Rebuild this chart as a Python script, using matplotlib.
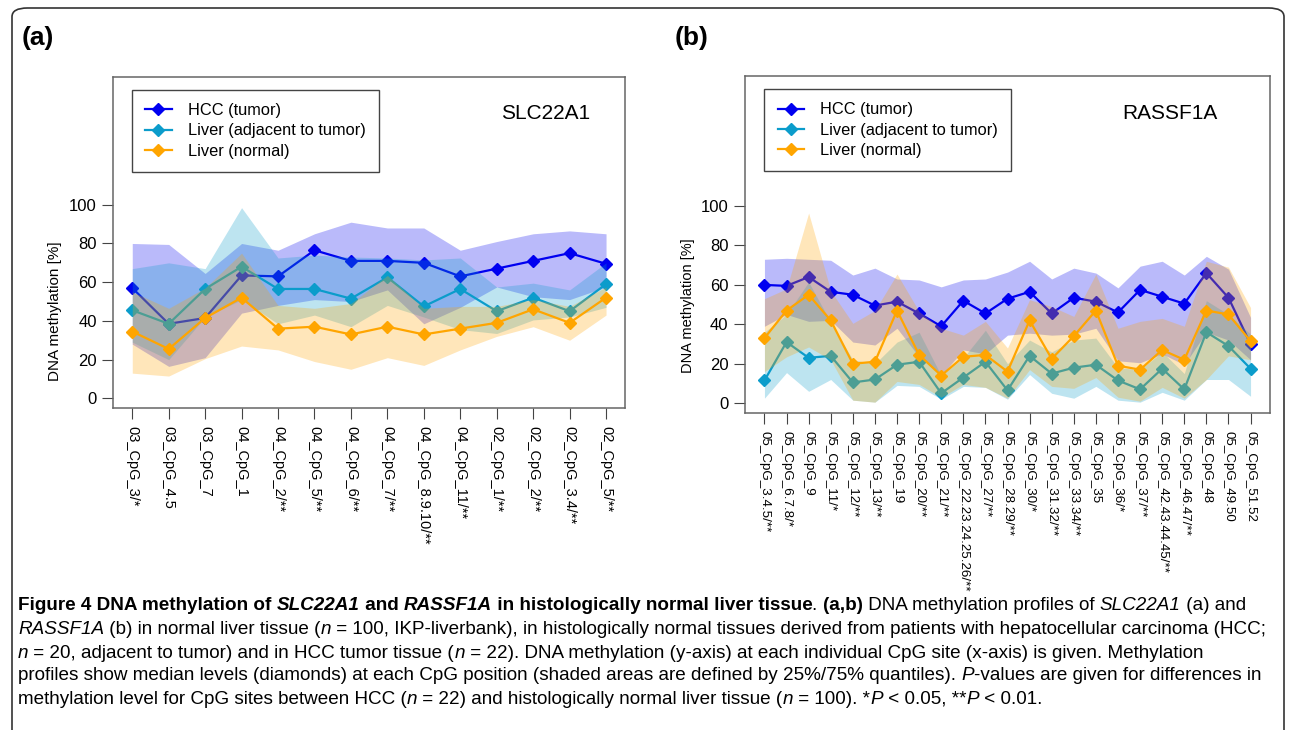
import matplotlib
matplotlib.use("Agg")
import matplotlib.pyplot as plt
from matplotlib.patches import FancyBboxPatch

# Daten (a) SLC22A1
sites_a = ["03_CpG_3/*", "03_CpG_4.5", "03_CpG_7", "04_CpG_1", "04_CpG_2/**", "04_CpG_5/**",
           "04_CpG_6/**", "04_CpG_7/**", "04_CpG_8.9.10/**", "04_CpG_11/**", "02_CpG_1/**",
           "02_CpG_2/**", "02_CpG_3.4/**", "02_CpG_5/**"]
hcc_med_a = [57, 38.5, 41.5, 63.5, 63, 76.5, 71, 71, 70, 63, 67, 71, 75, 69.5]
hcc_q75_a = [80, 79.5, 64.5, 80, 76.5, 85, 91, 88, 88, 76.5, 81, 85, 86.5, 85]
hcc_q25_a = [28, 16.5, 21, 44, 48, 51, 50, 56, 38.5, 47, 57.5, 52.5, 51, 57.5]
adj_med_a = [45.5, 38.5, 56.5, 68, 56.5, 56.5, 51.5, 62.5, 47.5, 56.5, 45, 52, 45, 59]
adj_q75_a = [67, 70, 67, 98.5, 72.5, 74, 73, 72.5, 71.5, 72.5, 57.5, 59.5, 56, 70]
adj_q25_a = [29, 20, 42, 51, 38.5, 43, 37, 48, 42, 35.5, 33.5, 40.5, 42, 47]
nor_med_a = [34.5, 25.5, 41.5, 52, 36, 37, 33, 37, 33, 36, 39, 46, 39, 52]
nor_q75_a = [55, 46.5, 57, 75, 48, 46.5, 49, 63.5, 46.5, 47.5, 47.5, 51, 47.5, 57.5]
nor_q25_a = [13, 11.5, 20.5, 27, 25, 19, 15, 21, 17, 25, 32, 37, 30, 43]

# Daten (b) RASSF1A
sites_b = ["05_CpG_3.4.5/**", "05_CpG_6.7.8/*", "05_CpG_9", "05_CpG_11/*", "05_CpG_12/**",
           "05_CpG_13/**", "05_CpG_19", "05_CpG_20/**", "05_CpG_21/**", "05_CpG_22.23.24.25.26/**",
           "05_CpG_27/**", "05_CpG_28.29/**", "05_CpG_30/*", "05_CpG_31.32/**", "05_CpG_33.34/**",
           "05_CpG_35", "05_CpG_36/*", "05_CpG_37/**", "05_CpG_42.43.44.45/**", "05_CpG_46.47/**",
           "05_CpG_48", "05_CpG_49.50", "05_CpG_51.52"]
hcc_med_b = [60, 59.5, 64, 56.5, 55, 49.5, 51.5, 45.5, 39, 52, 45.5, 53, 56.5, 45.5, 53.5, 51.5, 46, 57.5, 54, 50.5, 66, 53.5, 30]
hcc_q75_b = [73, 73.5, 73, 72.5, 65, 68.5, 63, 62.5, 59, 62.5, 63, 66.5, 72, 63, 68.5, 66, 58.5, 69.5, 72, 65, 74.5, 68, 43.5]
hcc_q25_b = [39, 45, 41.5, 42, 31, 29.5, 38, 23.5, 14, 27, 25, 34.5, 35.5, 34.5, 35, 38, 21.5, 20.5, 25, 19.5, 36, 32, 22]
adj_med_b = [11.5, 31, 23, 24, 10.5, 12, 19.5, 21, 5, 13, 21, 6.5, 24, 15, 18, 19.5, 11.5, 7, 17.5, 7, 36, 29, 17.5]
adj_q75_b = [36, 45, 61.5, 41, 22, 20, 31, 36, 14, 23, 37, 20, 32, 26, 32, 33, 18, 17, 26, 15, 52, 45, 35]
adj_q25_b = [2.5, 15.5, 6, 12, 1.5, 0.5, 9, 8.5, 2, 8.5, 8, 2, 14.5, 5, 2.5, 8.5, 1.5, 0.5, 5.5, 1.5, 12, 12, 3.5]
nor_med_b = [33, 47, 55, 42, 20, 21, 47, 24.5, 14, 23.5, 24.5, 16, 42, 22.5, 34, 47, 19, 17, 27, 22, 47, 45, 31.5]
nor_q75_b = [53, 58, 96.5, 57, 40.5, 47, 65.5, 46.5, 38, 34.5, 41.5, 28, 52.5, 49, 44, 65.5, 38, 41.5, 43, 39, 72, 69, 48.5]
nor_q25_b = [16, 23.5, 28.5, 22, 1.5, 0.5, 11, 9.5, 3, 9.5, 8, 2.5, 17, 8.5, 7.5, 13, 3, 1, 8, 2.5, 12, 24, 22]

labels = ["HCC (tumor)", "Liver (adjacent to tumor)", "Liver (normal)"]
colors = ["#0000f0", "#0b9ccb", "#ffa500"]

plt.rcParams["font.family"] = ["Liberation Sans", "DejaVu Sans"]

W, H = 1290, 730
fig = plt.figure(figsize=(W / 100, H / 100), dpi=100)

# Rahmen
frame = FancyBboxPatch((12 / W, -20 / H), (1284 - 12) / W, (722 + 20) / H,
                       boxstyle="round,pad=0,rounding_size=0.012", transform=fig.transFigure,
                       fill=False, edgecolor="#333333", linewidth=1.2)
fig.patches.append(frame)

fig.text(22 / W, 1 - 38 / H, "(a)", fontsize=19, fontweight="bold", va="center")
fig.text(675 / W, 1 - 38 / H, "(b)", fontsize=19, fontweight="bold", va="center")


def panel(rect, sites, series, gene, gene_xy, ylab_xy, ylab_size, tick_size):
    ax = fig.add_axes(rect)
    x = list(range(1, len(sites) + 1))
    z = 1
    handles = []
    for (med, lo, hi), c, lab in zip(series, colors, labels):
        ax.fill_between(x, lo, hi, color=c, alpha=0.27, linewidth=0, zorder=z)
        h, = ax.plot(x, med, color=c, marker="D", markersize=6.5, linewidth=1.6, zorder=z + 1, label=lab)
        handles.append(h)
        z += 2
    pad = 0.04 * (len(sites) - 1)
    ax.set_xlim(1 - pad, len(sites) + pad)
    ax.set_ylim(-5, 166)
    ax.set_yticks([0, 20, 40, 60, 80, 100])
    ax.set_xticks(x)
    ax.set_xticklabels(sites, rotation=270, fontsize=tick_size, va="top", ha="center")
    ax.tick_params(axis="y", labelsize=12, length=8, color="#444444", pad=4)
    ax.tick_params(axis="x", length=8, color="#444444", pad=5)
    for s in ax.spines.values():
        s.set_color("#666666")
        s.set_linewidth(1.1)
    ax.set_ylabel("DNA methylation [%]", fontsize=ylab_size)
    ax.yaxis.set_label_coords(*ylab_xy)
    leg = ax.legend(handles=handles, loc="upper left", bbox_to_anchor=(0.037, 0.961),
                    borderaxespad=0, fontsize=11.8, fancybox=False, edgecolor="#444444",
                    framealpha=1, handlelength=1.6, handletextpad=1.0, labelspacing=0.33,
                    borderpad=0.8)
    leg.get_frame().set_linewidth(1.0)
    ax.text(gene_xy[0], gene_xy[1], gene, transform=ax.transAxes, fontsize=15,
            ha="center", va="center")
    return ax


panel([113.3 / W, 1 - 408 / H, (625 - 113.3) / W, (408 - 77) / H], sites_a,
      [(hcc_med_a, hcc_q25_a, hcc_q75_a), (adj_med_a, adj_q25_a, adj_q75_a), (nor_med_a, nor_q25_a, nor_q75_a)],
      "SLC22A1", (0.844, 0.891), (-0.10, 0.293), 11, 10.5)
panel([745 / W, 1 - 413 / H, (1270 - 745) / W, (413 - 76) / H], sites_b,
      [(hcc_med_b, hcc_q25_b, hcc_q75_b), (adj_med_b, adj_q25_b, adj_q75_b), (nor_med_b, nor_q25_b, nor_q75_b)],
      "RASSF1A", (0.81, 0.89), (-0.095, 0.318), 10.5, 9.6)

# Bildunterschrift, Segment für Segment
cap_font = ["Liberation Sans", "DejaVu Sans"]
cap_size = 13.6
B, BI, N, I = ("bold", "normal"), ("bold", "italic"), ("normal", "normal"), ("normal", "italic")
caption = [
    [("Figure 4 DNA methylation of ", B), ("SLC22A1", BI), (" and ", B), ("RASSF1A", BI),
     (" in histologically normal liver tissue", B), (". ", N), ("(a,b)", B),
     (" DNA methylation profiles of ", N), ("SLC22A1", I), (" (a) and", N)],
    [("RASSF1A", I), (" (b) in normal liver tissue (", N), ("n", I),
     (" = 100, IKP-liverbank), in histologically normal tissues derived from patients with hepatocellular carcinoma (HCC;", N)],
    [("n", I), (" = 20, adjacent to tumor) and in HCC tumor tissue (", N), ("n", I),
     (" = 22). DNA methylation (y-axis) at each individual CpG site (x-axis) is given. Methylation", N)],
    [("profiles show median levels (diamonds) at each CpG position (shaded areas are defined by 25%/75% quantiles). ", N),
     ("P", I), ("-values are given for differences in", N)],
    [("methylation level for CpG sites between HCC (", N), ("n", I),
     (" = 22) and histologically normal liver tissue (", N), ("n", I), (" = 100). *", N), ("P", I),
     (" < 0.05, **", N), ("P", I), (" < 0.01.", N)],
]
line_y = [606, 630, 653, 676, 699]
renderer = fig.canvas.get_renderer()
for segs, yy in zip(caption, line_y):
    xx = 18
    for txt, (wt, st) in segs:
        t = fig.text(xx / W, 1 - yy / H, txt, fontsize=cap_size, fontweight=wt, fontstyle=st,
                     family=cap_font, va="center", ha="left")
        xx += t.get_window_extent(renderer).width

fig.savefig("out.png", dpi=100)
